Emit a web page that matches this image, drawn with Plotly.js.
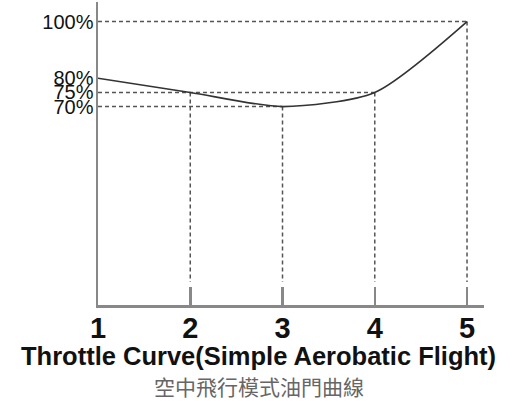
<!DOCTYPE html>
<html>
<head>
<meta charset="utf-8">
<script src="https://cdn.plot.ly/plotly-3.0.1.min.js"></script>
<style>
html,body{margin:0;padding:0;background:#fff;}
#chart{width:512px;height:401px;}
</style>
</head>
<body>
<div id="chart"></div>
<script>
// ---- data ----
const stickPoints = [1, 2, 3, 4, 5];
const throttle = [80, 75, 70, 75, 100];
const yTickValues = [70, 75, 80, 100];
const yTickLabels = ['70%', '75%', '80%', '100%'];
const xTickLabels = ['1', '2', '3', '4', '5'];
const titleText = 'Throttle Curve(Simple Aerobatic Flight)';
const subtitleText = '空中飛行模式油門曲線';

// ---- styling constants ----
const yRange = [0, 106.9];
const xRange = [1, 5.184];
const guideBottom = 8.1;
const guideStyle = {color: '#555', width: 1.5, dash: '4px,3px'};

const traces = [];
// vertical guides from each point (except the first, which lies on the axis)
for (let i = 1; i < stickPoints.length; i++) {
  traces.push({
    x: [stickPoints[i], stickPoints[i]],
    y: [throttle[i], guideBottom],
    mode: 'lines', line: guideStyle, hoverinfo: 'skip', showlegend: false
  });
}
// horizontal guides from the y axis to the farthest point with that value
const seen = {};
stickPoints.forEach((x, i) => {
  const v = throttle[i];
  if (!(v in seen) || x > seen[v]) seen[v] = x;
});
Object.keys(seen).forEach(k => {
  const xEnd = seen[k];
  if (xEnd > stickPoints[0]) {
    traces.push({
      x: [stickPoints[0], xEnd],
      y: [Number(k), Number(k)],
      mode: 'lines', line: guideStyle, hoverinfo: 'skip', showlegend: false
    });
  }
});
// the throttle curve
traces.push({
  x: stickPoints, y: throttle,
  mode: 'lines',
  line: {color: '#333', width: 1.6, shape: 'spline', smoothing: 0.7},
  showlegend: false
});

const layout = {
  width: 512, height: 401,
  margin: {l: 98, r: 28, t: 2, b: 96},
  paper_bgcolor: '#fff', plot_bgcolor: '#fff',
  showlegend: false,
  xaxis: {
    range: xRange, showgrid: false, zeroline: false,
    showline: true, linecolor: '#888', linewidth: 2.5,
    tickmode: 'array', tickvals: stickPoints, ticktext: xTickLabels,
    ticks: 'inside', ticklen: 18, tickwidth: 2.5, tickcolor: '#888',
    ticklabelstandoff: -4,
    tickfont: {family: 'Liberation Sans, Arial, sans-serif', size: 29, color: '#111', weight: 'bold'},
    fixedrange: true
  },
  yaxis: {
    range: yRange, showgrid: false, zeroline: false,
    showline: true, linecolor: '#888', linewidth: 2.5,
    tickmode: 'array', tickvals: yTickValues, ticktext: yTickLabels,
    ticks: '', ticklabelstandoff: -2,
    tickfont: {family: 'Liberation Sans, Arial, sans-serif', size: 20, color: '#111'},
    fixedrange: true
  },
  annotations: [
    {
      text: titleText, xref: 'paper', yref: 'paper',
      x: 0.417, y: -0.168, xanchor: 'center', yanchor: 'middle', showarrow: false,
      font: {family: 'Liberation Sans, Arial, sans-serif', size: 25.5, color: '#111', weight: 'bold'}
    },
    {
      text: subtitleText, xref: 'paper', yref: 'paper',
      x: 0.417, y: -0.268, xanchor: 'center', yanchor: 'middle', showarrow: false,
      font: {family: 'Noto Sans CJK TC, Noto Sans CJK SC, sans-serif', size: 21, color: '#666'}
    }
  ]
};

Plotly.newPlot('chart', traces, layout, {staticPlot: true, displayModeBar: false});
</script>
</body>
</html>
